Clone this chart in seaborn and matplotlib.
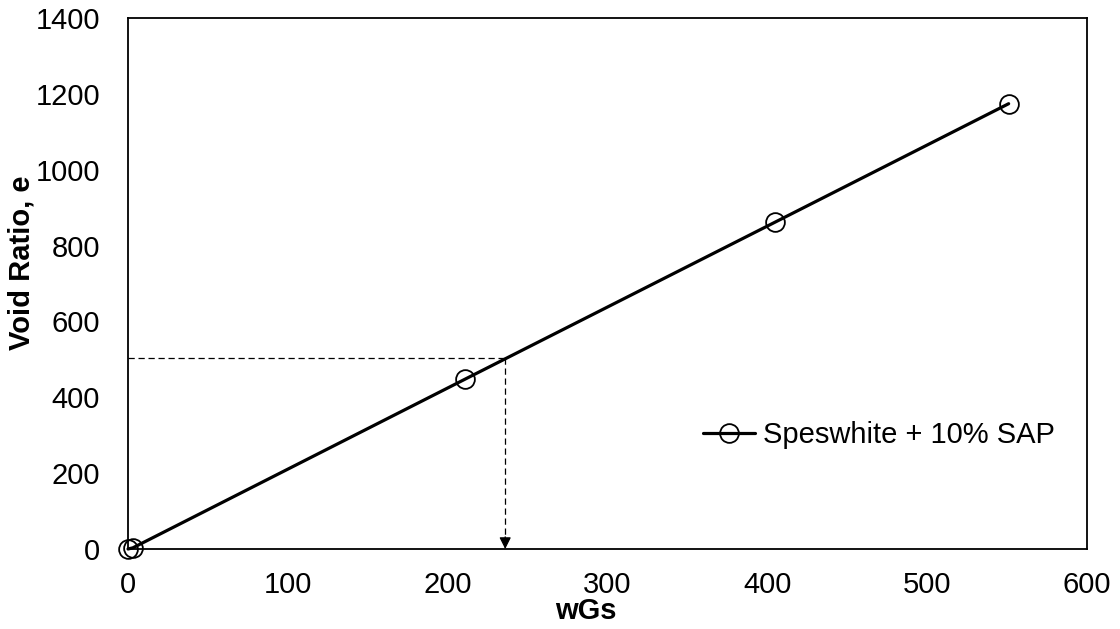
import numpy as np
import pandas as pd
import matplotlib
matplotlib.use("Agg")
import matplotlib.pyplot as plt
import seaborn as sns

# data
wgs = [0, 3, 211, 405, 551]
void_ratio = [0, 3, 448, 862, 1174]
series_name = "Speswhite + 10% SAP"

# dashed guide to the reading on the line
guide_x = 236
guide_y = 503

x_ticks = [0, 100, 200, 300, 400, 500, 600]
y_ticks = [0, 200, 400, 600, 800, 1000, 1200, 1400]

df = pd.DataFrame({"wGs": wgs, "e": void_ratio})

sns.set_style("white")
plt.rcParams["font.family"] = ["Liberation Sans", "DejaVu Sans"]
plt.rcParams["text.color"] = "black"
plt.rcParams["axes.labelcolor"] = "black"
plt.rcParams["xtick.color"] = "black"
plt.rcParams["ytick.color"] = "black"

fig = plt.figure(figsize=(11.2, 6.29), dpi=100)
ax = fig.add_axes([0.1143, 0.1272, 0.8562, 0.8442])

sns.lineplot(data=df, x="wGs", y="e", ax=ax, color="black", linewidth=2.3,
             marker="o", markersize=13.5, markerfacecolor="none",
             markeredgecolor="black", markeredgewidth=1.3, sort=False,
             label=series_name, clip_on=False, zorder=5)

# ----- dashed guide lines with arrow down to the x axis ------
ax.plot([0, guide_x], [guide_y, guide_y], color="black", lw=0.9, ls=(0, (5, 3)))
ax.plot([guide_x, guide_x], [guide_y, 30], color="black", lw=0.9, ls=(0, (5, 3)))
ax.annotate("", xy=(guide_x, 0), xytext=(guide_x, 32),
            arrowprops=dict(arrowstyle="-|>,head_length=0.7,head_width=0.35",
                            color="black", lw=0.9, shrinkA=0, shrinkB=0))

ax.set_xlim(0, 600)
ax.set_ylim(0, 1400)
ax.set_xticks(x_ticks)
ax.set_yticks(y_ticks)
ax.tick_params(axis="x", length=0, pad=16, labelsize=21, labelcolor="black")
ax.tick_params(axis="y", length=0, pad=20, labelsize=21, labelcolor="black")

ax.set_xlabel("wGs", fontsize=21, fontweight="bold", color="black")
ax.set_ylabel("Void Ratio, e", fontsize=21, fontweight="bold", color="black")
ax.xaxis.set_label_coords(0.4776, -0.117)
ax.xaxis.label.set_va("center")
ax.yaxis.set_label_coords(-0.111, 0.54)
ax.yaxis.label.set_va("center")

for s in ax.spines.values():
    s.set_color("black")
    s.set_linewidth(1.3)

leg = ax.legend(loc="center left", bbox_to_anchor=(0.5996, 0.215), frameon=False,
                fontsize=21, handlelength=1.8, handletextpad=0.25, borderpad=0,
                borderaxespad=0)
for t in leg.get_texts():
    t.set_color("black")

fig.savefig("out.png", dpi=100)
